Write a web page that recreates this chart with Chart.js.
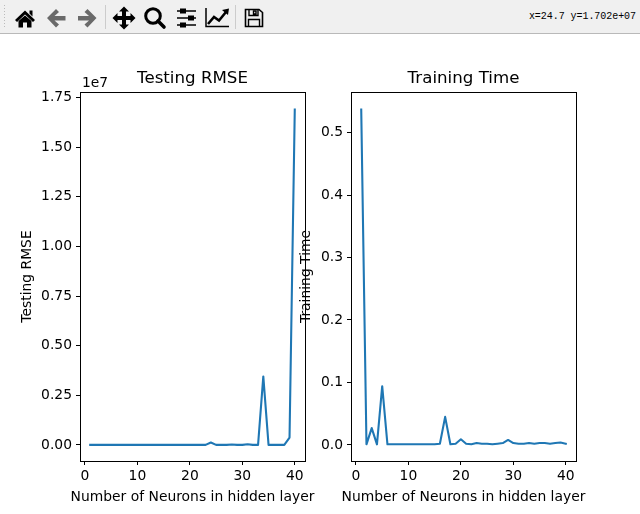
<!DOCTYPE html>
<html><head><meta charset="utf-8">
<script src="https://cdn.jsdelivr.net/npm/chart.js@4"></script>
<style>
html,body{margin:0;padding:0;background:#fff;width:640px;height:514px;overflow:hidden}
#bar{position:absolute;left:0;top:0;width:640px;height:33px;background:#f0f0f0;border-bottom:1px solid #b9b9b9}
#bar svg{position:absolute;left:0;top:0}
#status{position:absolute;right:4px;top:11px;font:10px "Liberation Mono",monospace;color:#000;white-space:pre;letter-spacing:-.05px}
canvas{position:absolute;left:0;top:0}
</style></head><body>
<div id="bar">
<svg width="520" height="33" viewBox="0 0 520 33">
<g fill="#bbb"><rect x="4" y="5" width="1" height="1"/><rect x="4" y="8" width="1" height="1"/><rect x="4" y="11" width="1" height="1"/><rect x="4" y="14" width="1" height="1"/><rect x="4" y="17" width="1" height="1"/><rect x="4" y="20" width="1" height="1"/><rect x="4" y="23" width="1" height="1"/><rect x="4" y="26" width="1" height="1"/></g>
<rect x="105" y="5" width="1" height="24" fill="#ccc"/><rect x="235" y="5" width="1" height="24" fill="#ccc"/>
<path d="M15 20 L25 10.5 L35 20 L33 22 L25 14.5 L17 22 Z M29.5 10.5h3v6l-3-3Z" fill="#000"/><path d="M18.5 21 L25 15.5 L31.5 21 V27.5 H27 V22.5 H23 V27.5 H18.5 Z" fill="#000"/>
<path d="M47 18 L56 9 L59 12 L54.5 16 H65.5 V20.5 H54.5 L59 24.5 L56 27.5 Z" fill="#6a6a6a"/>
<path d="M96.5 18 L87.5 9 L84.5 12 L89 16 H78 V20.5 H89 L84.5 24.5 L87.5 27.5 Z" fill="#6a6a6a"/>
<path d="M124 6.5 L129 11.5 H126 V16 H130.5 V13 L135.5 18 L130.5 23 V20 H126 V24.5 H129 L124 29.5 L119 24.5 H122 V20 H117.5 V23 L112.5 18 L117.5 13 V16 H122 V11.5 H119 Z" fill="#000"/>
<circle cx="153" cy="16" r="7.3" fill="none" stroke="#000" stroke-width="3"/><path d="M158 21 L164 27" stroke="#000" stroke-width="3.6" stroke-linecap="round"/>
<g stroke="#000" stroke-width="1.4"><path d="M177 11H196M177 18H196M177 25H196"/></g><g fill="#000"><rect x="180" y="8.5" width="6" height="5"/><rect x="188" y="15.5" width="6" height="5"/><rect x="180" y="22.5" width="6" height="5"/></g>
<path d="M206 8V26.5H229" fill="none" stroke="#000" stroke-width="1.5"/><path d="M208 24 L214 17 L219 20.5 L226 12" fill="none" stroke="#000" stroke-width="2.6"/><path d="M222 10 L229 8.5 L228 15 Z" fill="#000"/>
<path d="M245.5 9.5 H259 L262.5 12.5 V26.5 H245.5 Z" fill="none" stroke="#000" stroke-width="1.6"/><path d="M249 9.5 V15.5 H258 V9.5 M253.5 11 H256 V14 H253.5Z M248.5 26.5 V19.5 H259.5 V26.5" fill="none" stroke="#000" stroke-width="1.4"/>
</svg>
<div id="status">x=24.7 y=1.702e+07</div>
</div>
<canvas id="c1" width="640" height="514"></canvas>
<canvas id="c2" width="640" height="514"></canvas>
<script>
const neurons = [1,2,3,4,5,6,7,8,9,10,11,12,13,14,15,16,17,18,19,20,21,22,23,24,25,26,27,28,29,30,31,32,33,34,35,36,37,38,39,40];
const rmseValues = [2000,2000,2000,2000,2000,2000,2000,2000,2000,2000,2000,2000,2000,2000,2000,2000,2000,2000,2000,2000,2000,2000,2000,125000,3000,3000,3000,25000,3000,3000,35000,3000,3000,3450000,3000,3000,3000,3000,370000,16900000];
const timeValues = [0.537,0.001,0.027,0.001,0.094,0.001,0.001,0.001,0.001,0.001,0.001,0.001,0.001,0.001,0.001,0.002,0.045,0.001,0.002,0.009,0.002,0.001,0.003,0.002,0.002,0.001,0.002,0.003,0.008,0.003,0.002,0.002,0.003,0.002,0.003,0.003,0.002,0.003,0.004,0.002];
const xTicks = [0,10,20,30,40];
const rmseTicks = [0,2500000,5000000,7500000,10000000,12500000,15000000,17500000];
const timeTicks = [0,0.1,0.2,0.3,0.4,0.5];
const titles = ["Testing RMSE","Training Time"];
const yLabels = ["Testing RMSE","Training Time"];
const xLabel = "Number of Neurons in hidden layer";
const FONT = "'DejaVu Sans'";
const BLUE = "#1f77b4";

const frame = {id:"frame",afterDraw(c,a,o){
  const g=c.ctx,r=c.chartArea;g.save();g.strokeStyle="#000";g.lineWidth=1;
  const L=Math.round(r.left),T=Math.round(r.top),W=Math.round(r.width),H=Math.round(r.height);
  g.strokeRect(L+.5,T+.5,W,H);
  g.fillStyle="#000";g.textBaseline="alphabetic";
  g.textAlign="center";
  g.font="16.67px "+FONT;g.fillText(o.title,L+W/2,T-9.5);
  g.font="13.89px "+FONT;g.fillText(xLabel,L+W/2,T+H+40);
  if(o.exponent){g.textAlign="left";g.fillText(o.exponent,L+2,T-5);}
  g.restore();}};

function make(id,i,values,yTicks,yMin,yMax,left,right,fmt,exp,yw){
  const opts={
    responsive:false,animation:false,devicePixelRatio:1,
    layout:{padding:{left:left,right:640-right,top:92,bottom:0}},
    plugins:{legend:{display:false},tooltip:{enabled:false},title:{display:false},
      frame:{exponent:exp,title:titles[i]}},
    scales:{
      x:{type:"linear",min:-0.95,max:41.95,
        afterBuildTicks:s=>{s.ticks=xTicks.map(v=>({value:v}));},
        afterFit:s=>{s.height=53;},
        grid:{drawOnChartArea:false,drawTicks:true,tickLength:4,tickColor:"#000",color:"#000"},border:{display:false},
        ticks:{color:"#000",font:{family:FONT,size:13.89},maxRotation:0,padding:3,autoSkip:false}},
      y:{type:"linear",min:yMin,max:yMax,
        afterBuildTicks:s=>{s.ticks=yTicks.map(v=>({value:v}));},
        afterFit:s=>{s.width=yw;},
        grid:{drawOnChartArea:false,drawTicks:true,tickLength:4,tickColor:"#000",color:"#000"},border:{display:false},
        ticks:{color:"#000",font:{family:FONT,size:13.89},padding:4,autoSkip:false,callback:fmt},
        title:{display:true,text:yLabels[i],color:"#000",font:{family:FONT,size:13.89},padding:{top:0,bottom:0}}}
    }};
  return new Chart(document.getElementById(id),{type:"line",
    data:{labels:neurons,datasets:[{data:neurons.map((n,k)=>({x:n,y:values[k]})),borderColor:BLUE,borderWidth:2.08,borderCapStyle:"square",borderJoinStyle:"round",pointRadius:0,tension:0,fill:false}]},
    options:opts,plugins:[frame]});
}
make("c1",0,rmseValues,rmseTicks,-810000,17780000,19,305,v=>(v/1e7).toFixed(2),"1e7",61);
make("c2",1,timeValues,timeTicks,-0.0257,0.5649,298,576,v=>v.toFixed(1),"",53);
</script>
</body></html>
